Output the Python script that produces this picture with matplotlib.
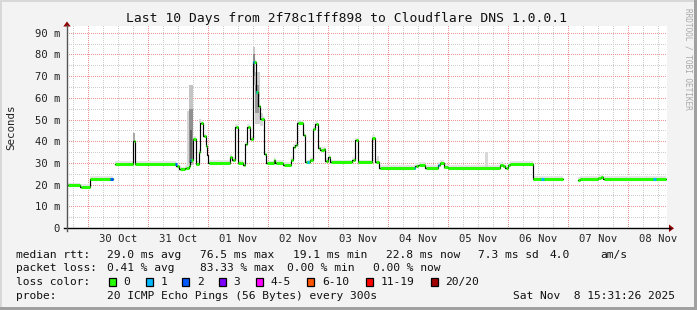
import numpy as np
import matplotlib
matplotlib.use("Agg")
import matplotlib.pyplot as plt
from matplotlib.patches import Rectangle, Polygon
from matplotlib.lines import Line2D
from matplotlib.colors import to_rgba

# ---------------- data ----------------
# time axis: hours since 30 Oct 2025 00:00
T_START, T_END = -8.48, 231.52
day_labels = ["30 Oct", "31 Oct", "01 Nov", "02 Nov", "03 Nov",
              "04 Nov", "05 Nov", "06 Nov", "07 Nov", "08 Nov"]
y_ticks_ms = [0, 10, 20, 30, 40, 50, 60, 70, 80, 90]
y_tick_labels = ["0", "10 m", "20 m", "30 m", "40 m", "50 m", "60 m", "70 m", "80 m", "90 m"]

# median rtt step series: segment start hour and median (ms); nan = no data
seg_start = [-8.48, -3.1, 0.6, 9.9, 10.6, 18.0, 18.7, 35.3, 36.5, 38.9, 40.2, 40.9, 41.9,
             43.1, 44.3, 44.9, 46.1, 47.0, 47.6, 48.1, 56.7, 57.7, 58.8, 59.9, 62.0, 62.9,
             63.6, 64.9, 66.0, 67.1, 68.1, 68.8, 70.5, 71.2, 74.3, 74.9, 78.1, 81.1, 82.0,
             82.8, 83.6, 86.1, 86.8, 88.7, 89.9, 90.8, 92.1, 92.9, 94.3, 94.9, 96.1, 96.8,
             105.7, 106.9, 107.8, 113.4, 114.8, 116.5, 130.9, 132.1, 134.9, 140.1, 140.7,
             142.3, 143.9, 164.7, 165.9, 166.9, 167.9, 168.7, 177.8, 189.9, 195.8, 196.6,
             203.8, 205.1, 206.1]
seg_value = [19.6, 18.9, 22.6, np.nan, 29.4, 40.0, 29.7, 28.6, 27.0, 27.7, 28.5, 31.2, 41.2,
             29.7, 35.0, 48.5, 42.2, 38.0, 33.5, 30.0, 32.7, 31.2, 46.5, 30.0, 28.9, 38.9,
             46.5, 41.2, 76.4, 62.9, 56.0, 50.2, 34.0, 29.8, 31.2, 30.0, 29.2, 31.2, 37.3,
             38.4, 48.3, 43.0, 30.2, 31.2, 45.8, 47.8, 37.0, 36.1, 36.6, 30.9, 32.7, 30.2,
             31.2, 40.4, 30.2, 41.5, 30.4, 27.7, 28.5, 29.1, 27.7, 28.9, 30.0,
             28.2, 27.7, 29.2, 28.5, 27.7, 28.9, 29.4, 22.8, np.nan, 22.0, 22.6,
             23.1, 23.6, 22.8]
data_end = 231.1

# packet-loss spots: start hour, end hour, lost pings (of 20)
loss_start = [8.9, 34.9, 40.9, 66.0, 67.3, 87.6, 130.2, 140.0, 181.0, 226.0]
loss_end = [10.0, 35.6, 41.3, 66.4, 67.7, 88.3, 130.7, 140.5, 182.2, 227.0]
loss_count = [2, 2, 1, 1, 1, 1, 1, 1, 1, 1]

# smoke (spread of individual pings): start hour, end hour, low ms, high ms, shade
smoke_start = [18.0, 39.7, 40.2, 40.5, 40.7, 44.5, 65.8, 65.9, 66.8, 66.8, 68.6, 83.6, 115.6, 158.9]
smoke_end = [18.7, 40.5, 41.9, 41.9, 41.7, 45.3, 66.8, 66.6, 68.6, 68.3, 69.9, 85.0, 116.2, 159.8]
smoke_low = [40.0, 28.5, 29.0, 30.0, 30.0, 48.5, 66.0, 70.0, 48.0, 53.0, 47.0, 48.3, 30.0, 27.7]
smoke_high = [43.6, 54.0, 66.0, 55.0, 45.0, 50.4, 83.5, 80.0, 72.0, 66.0, 53.0, 50.0, 33.0, 35.0]
smoke_shade = ['#a8a8a8', '#d4d4d4', '#c4c4c4', '#909090', '#606060', '#d0d0d0', '#c8c8c8',
               '#8c8c8c', '#d0d0d0', '#9a9a9a', '#d8d8d8', '#d8d8d8', '#d8d8d8', '#d8d8d8']

loss_legend = ["0", "1", "2", "3", "4-5", "6-10", "11-19", "20/20"]
loss_colors = ["#26ff00", "#00b8ff", "#0059ff", "#7e00ff", "#ff00ff", "#ff5500", "#ff0000", "#a00000"]

# ---------------- figure ----------------
W, H = 697, 310
MONO = "DejaVu Sans Mono"
fig = plt.figure(figsize=(W / 100, H / 100), dpi=100)
fig.patch.set_facecolor("#f3f3f3")


def fx(x):
    return x / W


def fy(y):
    return 1 - y / H


# frame (3D style)
fig.add_artist(Rectangle((0, fy(2)), 1, 2 / H, transform=fig.transFigure, color="#d8d8d8", lw=0))
fig.add_artist(Rectangle((0, 0), 2 / W, 1, transform=fig.transFigure, color="#d8d8d8", lw=0))
fig.add_artist(Rectangle((0, 0), 1, 3 / H, transform=fig.transFigure, color="#a0a0a0", lw=0))
fig.add_artist(Rectangle((fx(694), 0), 3 / W, 1, transform=fig.transFigure, color="#a0a0a0", lw=0))

PX_L, PX_R, PX_T, PX_B = 67, 667, 26, 228
YMAX = 93.09
ax = fig.add_axes([fx(PX_L), fy(PX_B), (PX_R - PX_L) / W, (PX_B - PX_T) / H])
ax.patch.set_visible(False)
ax.set_xlim(T_START, T_END)
ax.set_ylim(0, YMAX)
for s in ax.spines.values():
    s.set_visible(False)

# dotted grid rendered pixel-exact on a white canvas image
gw, gh = PX_R - PX_L, PX_B - PX_T
canvas = np.ones((gh, gw, 4))
c_minor = np.array(to_rgba("#cdcdcd"))
c_major = np.array(to_rgba("#eb9595"))


def col_of(h):
    return int(round((h - T_START) / (T_END - T_START) * gw))


def row_of(v):
    return int(round(gh - v / YMAX * gh))


for hv in np.arange(-6, T_END, 6):
    c = col_of(hv)
    if 0 <= c < gw:
        canvas[0::2, c] = c_major if hv % 24 == 0 else c_minor
for v in np.arange(5, 92, 5):
    r = row_of(v)
    if 0 <= r < gh:
        canvas[r, 0::2] = c_major if v % 10 == 0 else c_minor
fig.figimage(canvas, xo=PX_L, yo=H - PX_B, origin="upper", zorder=-1)

# segments
ends = seg_start[1:] + [data_end]
# smoke base band
for t0, t1, v in zip(seg_start, ends, seg_value):
    if np.isnan(v):
        continue
    ax.fill_between([t0, t1], [v - 0.9] * 2, [v + 1.3] * 2, color="#e6e6e6", lw=0, zorder=1)
for t0, t1, lo, hi, c in zip(smoke_start, smoke_end, smoke_low, smoke_high, smoke_shade):
    ax.fill_between([t0, t1], [lo, lo], [hi, hi], color=c, lw=0, zorder=1.2)

# black step line
xs, ys = [], []
for t0, t1, v in zip(seg_start, ends, seg_value):
    xs += [t0, t1]
    ys += [v, v]
ax.plot(xs, ys, color="black", lw=0.85, zorder=2, solid_joinstyle="miter")

# colored median (loss 0)
for t0, t1, v in zip(seg_start, ends, seg_value):
    if np.isnan(v):
        continue
    ax.plot([t0 + 0.2, t1], [v, v], color=loss_colors[0], lw=2.2, solid_capstyle="butt", zorder=3)


def median_at(t):
    val = np.nan
    for s0, v in zip(seg_start, seg_value):
        if s0 <= t:
            val = v
    return val


for t0, t1, n in zip(loss_start, loss_end, loss_count):
    v = median_at((t0 + t1) / 2)
    idx = {0: 0, 1: 1, 2: 2, 3: 3}.get(n, 4)
    ax.plot([t0, t1], [v, v], color=loss_colors[idx], lw=2.2, solid_capstyle="butt", zorder=3.5)

# ticks
ax.set_xticks([12 + 24 * i for i in range(len(day_labels))])
ax.set_xticklabels(day_labels, fontfamily=MONO, fontsize=7.6, color="#222222")
ax.set_yticks(y_ticks_ms)
ax.set_yticklabels(y_tick_labels, fontfamily=MONO, fontsize=7.6, color="#222222")
ax.tick_params(length=0, pad=4.5)
ax.tick_params(axis="y", pad=5)

# axes lines and arrows
fig.add_artist(Line2D([fx(64), fx(670)], [fy(228.3), fy(228.3)], transform=fig.transFigure,
                      color="black", lw=1.0))
fig.add_artist(Line2D([fx(67), fx(67)], [fy(231), fy(25)], transform=fig.transFigure,
                      color="#555555", lw=1.0))
fig.add_artist(Polygon([[fx(669), fy(224.5)], [fx(669), fy(232)], [fx(674), fy(228.3)]],
                       closed=True, transform=fig.transFigure, color="#900000", lw=0))
fig.add_artist(Polygon([[fx(63.3), fy(26.5)], [fx(70.7), fy(26.5)], [fx(67), fy(21.5)]],
                       closed=True, transform=fig.transFigure, color="#900000", lw=0))

# title / labels
fig.text(fx(347), fy(18.5), "Last 10 Days from 2f78c1fff898 to Cloudflare DNS 1.0.0.1",
         ha="center", va="center", fontfamily=MONO, fontsize=9.4, color="#111111")
fig.text(fx(11), fy(127), "Seconds", rotation=90, ha="center", va="center",
         fontfamily=MONO, fontsize=7.8, color="#222222")
fig.text(fx(688), fy(59), "RRDTOOL / TOBI OETIKER", rotation=270, ha="center", va="center",
         fontfamily=MONO, fontsize=5.6, color="#a8a8a8")

# legend
LF = 8.1
rows = [
    (254.7, [(16, "median rtt:"), (107, "29.0 ms avg"), (200, "76.5 ms max"),
             (293, "19.1 ms min"), (386, "22.8 ms now"), (478, "7.3 ms sd"),
             (550, "4.0"), (600, "am/s")]),
    (268.3, [(16, "packet loss:"), (107, "0.41 % avg"), (200.5, "83.33 % max"),
             (287, "0.00 % min"), (373.3, "0.00 % now")]),
    (282.0, [(16, "loss color:")]),
    (295.7, [(16, "probe:"), (107, "20 ICMP Echo Pings (56 Bytes) every 300s"),
             (513.3, "Sat Nov  8 15:31:26 2025")]),
]
for yy, items in rows:
    for xx, s in items:
        fig.text(fx(xx), fy(yy), s, ha="left", va="center", fontfamily=MONO,
                 fontsize=LF, color="#111111")

box_x = [108.7, 145.7, 182.3, 219.0, 255.7, 307.3, 365.7, 430.7]
for bx, lab, col in zip(box_x, loss_legend, loss_colors):
    fig.add_artist(Rectangle((fx(bx), fy(285.5)), 7 / W, 7.5 / H, transform=fig.transFigure,
                             facecolor=col, edgecolor="black", lw=0.9))
    fig.text(fx(bx + 14.5), fy(282.0), lab, ha="left", va="center", fontfamily=MONO,
             fontsize=LF, color="#111111")

fig.savefig("out.png", dpi=100, facecolor=fig.get_facecolor())
